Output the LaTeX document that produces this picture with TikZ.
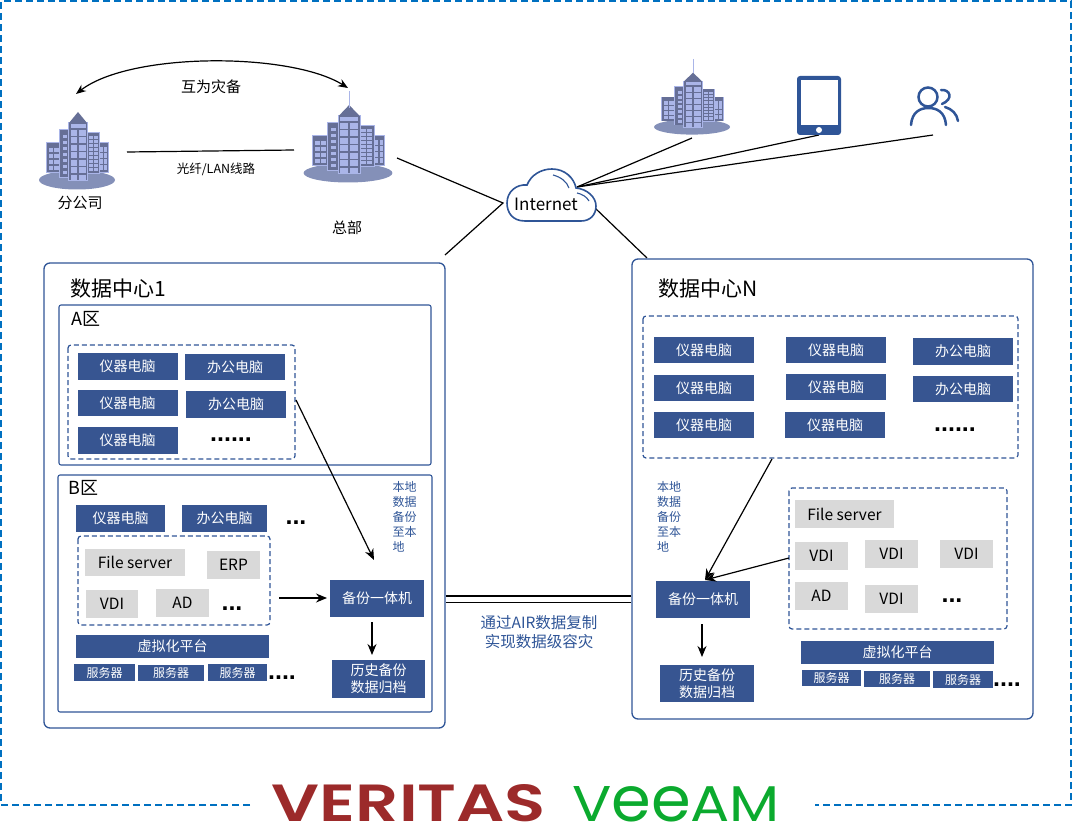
\documentclass[tikz,border=0pt]{standalone}
\usepackage{fontspec}
\usepackage{graphicx}
\usepackage{xcolor}
\setmainfont{Noto Sans CJK SC}
\newfontfamily\logofont{Poppins}
\newfontfamily\logoheavy{Poppins SemiBold}
\newfontfamily\dotfont{Liberation Sans}
\usetikzlibrary{arrows.meta}
\definecolor{navy}{HTML}{375591}
\definecolor{framecol}{HTML}{2F5597}
\definecolor{dashcol}{HTML}{0070C0}
\definecolor{greyfill}{HTML}{D9D9D9}
\definecolor{towerdark}{HTML}{666F96}
\definecolor{towerlight}{HTML}{AAB5E8}
\definecolor{groundcol}{HTML}{8490B8}
\definecolor{veritascol}{HTML}{9C2A2A}
\definecolor{veeamcol}{HTML}{0BAA2E}
\tikzset{
  bluebox/.style={fill=navy, text=white, inner sep=0pt, font=\fontsize{14}{17}\selectfont, align=center},
  pcbox/.style={bluebox, minimum width=100pt, minimum height=26.5pt},
  serverbox/.style={bluebox, minimum height=16pt, font=\fontsize{12}{14}\selectfont},
  greybox/.style={fill=greyfill, text=black, inner sep=0pt, font=\fontsize{15.5}{17}\selectfont, minimum width=53pt, minimum height=28pt},
  centerframe/.style={draw=framecol, line width=1.3pt, rounded corners=6pt},
  zoneframe/.style={draw=framecol, line width=1.1pt, rounded corners=2pt},
  groupframe/.style={draw=framecol, line width=1.2pt, dash pattern=on 5pt off 3pt, rounded corners=3pt},
  plainlabel/.style={inner sep=0pt, font=\fontsize{15}{17}\selectfont},
  bluelabel/.style={inner sep=0pt, text=framecol, align=left, font=\fontsize{12}{15}\selectfont},
  titlelabel/.style={inner sep=0pt, anchor=west, font=\fontsize{21}{24}\selectfont},
  dotslabel/.style={inner sep=0pt, anchor=base, font=\fontsize{25}{25}\dotfont\bfseries},
  link/.style={black, line width=1.2pt},
  flow/.style={black, line width=1.2pt, -{Stealth[length=11pt,width=9pt]}},
  pics/tower/.style={code={
    \fill[groundcol] (0,0) ellipse [x radius=38, y radius=9.5];
    \fill[towerlight] (-30.7,-37.7) rectangle (-16.3,-7.3);
    \fill[towerdark] (-30,-37) rectangle (-17,-8);
    \fill[towerlight] (21.3,-37.7) rectangle (31.7,-7.3);
    \fill[towerdark] (22,-37) rectangle (31,-8);
    \fill[towerlight] (-17.7,-50.7) rectangle (-7.3,-2.3);
    \fill[towerdark] (-17,-50) rectangle (-8,-3);
    \fill[towerlight] (9.3,-47.7) rectangle (22.7,-6.3);
    \fill[towerdark] (10,-47) rectangle (22,-7);
    \fill[towerlight] (-8.7,-57.7) rectangle (10.7,0.7);
    \fill[towerdark] (-8,-57) rectangle (10,0);
    \fill[towerdark] (-8,-57) -- (1,-68) -- (10,-57) -- cycle;
    \fill[towerlight] (-6.5,-56) rectangle (8.5,-52);
    \foreach \wy in {-50,-42.5,-35,-27.5,-20,-12.5,-5} {
      \fill[towerlight] (-6.5,\wy) rectangle (0.4,\wy+6);
      \fill[towerlight] (1.6,\wy) rectangle (8.5,\wy+6);
    }
    \foreach \wy in {-32,-26,-20,-14} {
      \fill[towerlight] (-28.5,\wy) rectangle (-24,\wy+4.5);
      \fill[towerlight] (-23,\wy) rectangle (-18.5,\wy+4.5);
    }
    \foreach \wy in {-33,-27,-21,-15} {
      \fill[towerlight] (23,\wy) rectangle (26,\wy+5);
      \fill[towerlight] (27,\wy) rectangle (30,\wy+5);
    }
    \foreach \wy in {-45,-39,-33,-27,-21,-15,-9} {
      \fill[towerlight] (-14.5,\wy) rectangle (-10.5,\wy+3.5);
    }
    \foreach \wy in {-44,-40,-36,-32,-28,-24,-20,-16,-12} {
      \fill[towerlight] (11.5,\wy) rectangle (15.5,\wy+2.8);
      \fill[towerlight] (16.5,\wy) rectangle (20.5,\wy+2.8);
    }
  }}
}
\begin{document}
\begin{tikzpicture}[x=1pt, y=-1pt]
  \useasboundingbox (0,0) rectangle (1072,829);

  % outer dashed border, open at the logos
  \draw[dashcol, line width=2pt, dash pattern=on 7pt off 4pt]
    (250,805) -- (1,805) -- (1,1) -- (1071,1) -- (1071,805) -- (815,805);

  % sites on top
  \pic at (77,180) {tower};
  \pic[xscale=1.17] at (348,173) {tower};
  \draw[towerlight, line width=0.6pt] (349,91) -- (349,108);
  \pic[yscale=0.8] at (692,127) {tower};
  \draw[towerlight, line width=0.6pt] (693,59) -- (693,73);
  \node[plainlabel] (branchlabel) at (80,203) {分公司};
  \node[plainlabel] (hqlabel) at (347,228) {总部};
  \node[plainlabel] (mutuallabel) at (211,87) {互为灾备};
  \node[plainlabel, font=\fontsize{12.5}{14}\selectfont] (fiberlabel) at (216,169) {光纤/LAN线路};

  \coordinate (branchtop) at (76,94);
  \coordinate (hqtop) at (348,88);
  \coordinate (branchside) at (127,152);
  \coordinate (hqside) at (294,150);
  \coordinate (hqright) at (397,158);
  \coordinate (netleft) at (503,203);
  \coordinate (onecorner) at (445,255);
  \coordinate (netright) at (595,208);
  \coordinate (ncorner) at (647,258);
  \coordinate (nethub) at (577,187);
  \coordinate (sitebottom) at (692,138);
  \coordinate (tabletbottom) at (819,135);
  \coordinate (usersbottom) at (933,135);
  \draw[black, line width=1.2pt, {Stealth[length=10pt,width=8pt]}-{Stealth[length=10pt,width=8pt]}]
    (branchtop) .. controls (130,52) and (290,52) .. (hqtop);
  \draw[link] (branchside) -- (hqside);
  \draw[link] (hqright) -- (netleft) -- (onecorner);
  \draw[link] (netright) -- (ncorner);
  \draw[link] (nethub) -- (sitebottom);
  \draw[link] (nethub) -- (tabletbottom);
  \draw[link] (nethub) -- (usersbottom);

  % cloud
  \draw[framecol, line width=1.6pt, fill=white]
    (525,221) .. controls (512,221) and (507,212) .. (507,203)
    .. controls (507,192) and (516,184) .. (527,185)
    .. controls (531,175) and (541,169) .. (552,169)
    .. controls (565,169) and (574,178) .. (576,188)
    .. controls (587,189) and (596,197) .. (596,206)
    .. controls (596,215) and (590,221) .. (581,221) -- cycle;
  \draw[framecol, line width=1.1pt] (553,175) .. controls (561,177) and (567,182) .. (569,188);
  \draw[framecol, line width=1.1pt] (577,193) .. controls (582,194) and (587,197) .. (589,201);
  \node[plainlabel, font=\fontsize{17}{19}\selectfont] (internet) at (546,204) {Internet};

  % tablet
  \fill[framecol, rounded corners=3pt] (797,76) rectangle (841,135);
  \fill[white] (801,80) rectangle (838,125);
  \fill[white] (819,130) circle (3pt);

  % users
  \draw[framecol, line width=2.5pt] (928,97) circle (9.5pt);
  \draw[framecol, line width=2.5pt, line cap=round] (911,125) .. controls (912,112) and (920,108) .. (928.5,108)
    .. controls (937,108) and (945,112) .. (946,125);
  \draw[framecol, line width=2.5pt, line cap=round] (941,90) .. controls (950,89) and (954,99) .. (942,104);
  \draw[framecol, line width=2.5pt, line cap=round] (945,107) .. controls (952,109) and (957,114) .. (958,121);

  % data center 1
  \draw[centerframe] (44,263) rectangle (445,728);
  \node[titlelabel] (dconetitle) at (70,289) {数据中心1};
  \draw[zoneframe] (59,305) rectangle (431,465);
  \node[titlelabel, font=\fontsize{18}{20}\selectfont] (zoneatitle) at (71,319) {A区};
  \draw[groupframe] (68,345) rectangle (295,459);
  \foreach \name/\cx/\cy/\boxtext in {a1/127.5/366.5/仪器电脑, a2/235/367/办公电脑,
      a3/127.5/403/仪器电脑, a4/236/404.5/办公电脑, a5/127.5/440.5/仪器电脑} {
    \node[pcbox] (\name) at (\cx,\cy) {\boxtext};
  }
  \node[dotslabel] (adots) at (231,441) {......};

  \draw[zoneframe] (58,475) rectangle (432,712);
  \node[titlelabel, font=\fontsize{18}{20}\selectfont] (zonebtitle) at (68,488) {B区};
  \node[bluebox, minimum width=89pt, minimum height=27pt] (b1) at (120.5,518.5) {仪器电脑};
  \node[bluebox, minimum width=85pt, minimum height=27pt] (b2) at (224.5,518.5) {办公电脑};
  \node[dotslabel] (bdots) at (296,524) {...};
  \draw[groupframe] (78,536) rectangle (270,625);
  \node[greybox, minimum width=100pt, minimum height=27pt] (bfile) at (135,562.5) {File server};
  \node[greybox] (berp) at (233.5,564.5) {ERP};
  \node[greybox, minimum width=52pt] (bvdi) at (112,604) {VDI};
  \node[greybox] (bad) at (182.5,603) {AD};
  \node[dotslabel] (bvmdots) at (232,610) {...};
  \node[bluebox, minimum width=193pt, minimum height=23pt] (bplatform) at (172.5,646.5) {虚拟化平台};
  \node[serverbox, minimum width=61pt, minimum height=17pt] (bsrv1) at (104.5,672.5) {服务器};
  \node[serverbox, minimum width=66pt] (bsrv2) at (171,672.5) {服务器};
  \node[serverbox, minimum width=59pt, minimum height=17pt] (bsrv3) at (237.5,672.5) {服务器};
  \node[dotslabel] (bsrvdots) at (282,679) {....};
  \node[bluebox, minimum width=94pt, minimum height=37pt] (onebackup) at (377,598.5) {备份一体机};
  \node[bluebox, minimum width=93pt, minimum height=38pt] (onearchive) at (378.5,679) {历史备份\\数据归档};
  \node[bluelabel] (onelocal) at (404.5,517) {本地\\数据\\备份\\至本\\地};
  \coordinate (astart) at (296,400);
  \coordinate (aend) at (374,560);
  \coordinate (bstart) at (279,598);
  \coordinate (bend) at (327,598);
  \coordinate (onedownstart) at (372,622);
  \coordinate (onedownend) at (372,655);
  \draw[flow] (astart) -- (aend);
  \draw[flow] (bstart) -- (bend);
  \draw[flow] (onedownstart) -- (onedownend);

  % data center N
  \draw[centerframe] (632,259) rectangle (1033,719);
  \node[titlelabel] (dcntitle) at (658,289) {数据中心N};
  \draw[groupframe] (643,316) rectangle (1018,458);
  \foreach \name/\cx/\cy/\boxtext in {n1/704/350/仪器电脑, n2/836/350/仪器电脑, n3/963/351.5/办公电脑,
      n4/704/388/仪器电脑, n5/836/387/仪器电脑, n6/963/389/办公电脑,
      n7/704/425/仪器电脑, n8/835/425/仪器电脑} {
    \node[pcbox] (\name) at (\cx,\cy) {\boxtext};
  }
  \node[dotslabel] (ndots) at (955,431) {......};
  \draw[groupframe] (789,488) rectangle (1007,629);
  \node[greybox, minimum width=99pt] (nfile) at (844.5,514) {File server};
  \node[greybox] (nvdi1) at (821.5,555.5) {VDI};
  \node[greybox] (nvdi2) at (891.5,554) {VDI};
  \node[greybox] (nvdi3) at (966.5,554) {VDI};
  \node[greybox] (nad) at (821.5,596) {AD};
  \node[greybox] (nvdi4) at (891.5,598.5) {VDI};
  \node[dotslabel] (nvmdots) at (952,602) {...};
  \node[bluebox, minimum width=193pt, minimum height=23pt] (nplatform) at (897.5,652.5) {虚拟化平台};
  \node[serverbox, minimum width=59pt] (nsrv1) at (831.5,678) {服务器};
  \node[serverbox, minimum width=66pt] (nsrv2) at (897,678.5) {服务器};
  \node[serverbox, minimum width=60pt, minimum height=17pt] (nsrv3) at (963,679.5) {服务器};
  \node[dotslabel] (nsrvdots) at (1007,686) {....};
  \node[bluebox, minimum width=94pt, minimum height=37pt] (nbackup) at (703,599.5) {备份一体机};
  \node[bluebox, minimum width=94pt, minimum height=37pt] (narchive) at (707,683.5) {历史备份\\数据归档};
  \node[bluelabel] (nlocal) at (669,517) {本地\\数据\\备份\\至本\\地};
  \coordinate (nstart) at (772,459);
  \coordinate (nvmstart) at (789,558);
  \coordinate (nend) at (705,580);
  \coordinate (ndownstart) at (702,624);
  \coordinate (ndownend) at (702,657);
  \draw[flow] (nstart) -- (nend);
  \draw[flow] (nvmstart) -- (nend);
  \draw[flow] (ndownstart) -- (ndownend);

  % replication between the centers
  \coordinate (replastart) at (446,596);
  \coordinate (replaend) at (631,596);
  \coordinate (replbstart) at (446,602);
  \coordinate (replbend) at (631,602);
  \draw[black, line width=1.7pt] (replastart) -- (replaend);
  \draw[black, line width=1pt] (replbstart) -- (replbend);
  \node[plainlabel, text=framecol, font=\fontsize{15.5}{17}\selectfont] (repl1) at (539,623) {通过AIR数据复制};
  \node[plainlabel, text=framecol, font=\fontsize{15.5}{17}\selectfont] (repl2) at (539,642) {实现数据级容灾};

  % logos
  \node[inner sep=0pt, text=veritascol] (veritas) at (409,803.5) {\resizebox{274pt}{37pt}{\logoheavy VERITAS}};
  \node[inner sep=0pt, text=veeamcol] (veeam) at (676,804.5) {\resizebox{208pt}{35pt}{\logofont V\scalebox{1.1}[1.25]{ee}AM}};
\end{tikzpicture}
\end{document}
